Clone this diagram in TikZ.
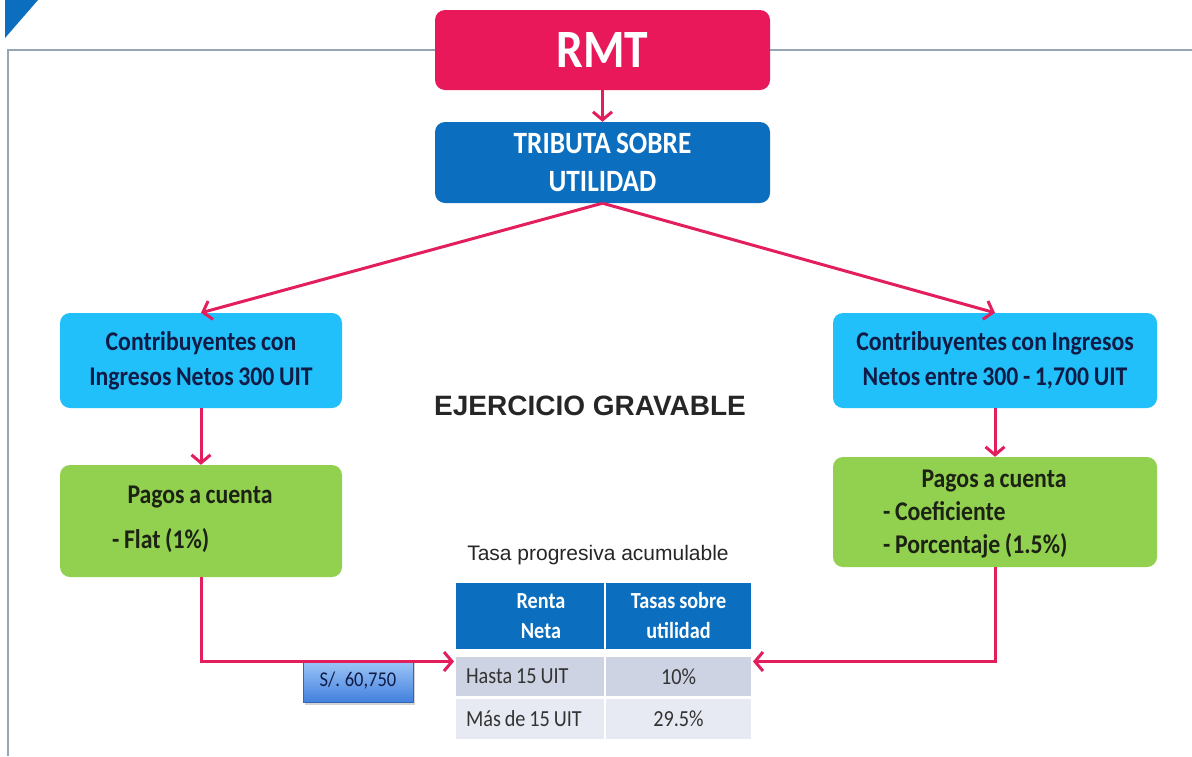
\documentclass[tikz,border=0pt]{standalone}
\usepackage{fontspec}
\setmainfont{Carlito}[FakeStretch=0.88, WordSpace=0.85]
\newfontfamily\arialfont{Liberation Sans}
\usepackage{xcolor}
\usepackage{tikz}
\usetikzlibrary{arrows.meta,positioning,shadows}

\definecolor{rmtred}{RGB}{232,24,90}
\definecolor{tribblue}{RGB}{12,110,190}
\definecolor{cyanbox}{RGB}{34,192,250}
\definecolor{greenbox}{RGB}{146,208,80}
\definecolor{navytext}{RGB}{16,28,70}
\definecolor{greentext}{RGB}{28,34,20}
\definecolor{arrowred}{RGB}{226,30,92}
\definecolor{framegray}{RGB}{150,166,180}
\definecolor{rowone}{RGB}{205,211,227}
\definecolor{rowtwo}{RGB}{231,234,242}
\definecolor{tagtop}{RGB}{160,200,248}
\definecolor{tagbottom}{RGB}{66,128,222}

\begin{document}
\begin{tikzpicture}[
    x=1pt, y=-1pt,
    box/.style={rectangle, rounded corners=10pt, inner sep=0pt, align=center},
    cyanbox/.style={box, fill=cyanbox, text=navytext, font=\fontsize{27}{35}\selectfont\bfseries},
    greenbox/.style={box, fill=greenbox},
    pagotext/.style={inner sep=0pt, text=greentext, font=\fontsize{27}{35}\selectfont\bfseries},
    link/.style={draw=arrowred, line width=3pt, -{Straight Barb[length=8pt,width=19pt]}},
    cell/.style={rectangle, draw=white, line width=2pt, inner sep=5pt, font=\fontsize{23}{30}\selectfont}
]
    \useasboundingbox (0,0) rectangle (1192,756);

    % corner mark and frame
    \fill[tribblue] (5,0) -- (38,0) -- (5,38) -- cycle;
    \draw[framegray, line width=2pt] (8,756) -- (8,50) -- (1192,50);

    % top boxes
    \node[box, fill=rmtred, minimum width=335pt, minimum height=80pt, text=white,
        font=\fontsize{54}{60}\selectfont\bfseries] (rmt) at (602.5,50) {RMT};
    \node[box, fill=tribblue, minimum width=335pt, minimum height=81pt, text=white,
        font=\fontsize{31}{38}\selectfont\bfseries] (trib) at (602.5,162.5) {TRIBUTA SOBRE\\UTILIDAD};

    % taxpayer boxes
    \node[cyanbox, minimum width=282pt, minimum height=95pt] (contL) at (201,360.5)
        {Contribuyentes con\\Ingresos Netos 300 UIT};
    \node[cyanbox, minimum width=324pt, minimum height=95pt] (contR) at (995,360.5)
        {Contribuyentes con Ingresos\\Netos entre 300 - 1,700 UIT};

    \node[font=\arialfont\fontsize{28}{32}\selectfont\bfseries, text=black!85] (ejer) at (590,406)
        {EJERCICIO GRAVABLE};

    % payment boxes
    \node[greenbox, minimum width=282pt, minimum height=112pt] (pagosL) at (201,521) {};
    \node[pagotext, anchor=base] (titleL) at (200,503) {Pagos a cuenta};
    \node[pagotext, anchor=base west] (flatL) at (112,548) {- Flat (1\%)};

    \node[greenbox, minimum width=324pt, minimum height=110pt] (pagosR) at (995,512) {};
    \node[pagotext, anchor=base] (titleR) at (994,487) {Pagos a cuenta};
    \node[pagotext, anchor=base west] (coefR) at (883,520) {- Coeficiente};
    \node[pagotext, anchor=base west] (porcR) at (883,553) {- Porcentaje (1.5\%)};

    % rate table
    \node[font=\arialfont\fontsize{21}{24}\selectfont, text=black!85] (tasa) at (598,555)
        {Tasa progresiva acumulable};
    \node[cell, fill=tribblue, minimum width=150pt, minimum height=68pt, text=white, align=center,
        font=\fontsize{23}{30}\selectfont\bfseries] (renta) at (530,616) {\hspace*{22pt}Renta\\\hspace*{22pt}Neta};
    \node[cell, fill=tribblue, minimum width=147pt, minimum height=68pt, text=white, align=center,
        font=\fontsize{23}{30}\selectfont\bfseries] (tasas) at (678.5,616) {Tasas sobre\\utilidad};
    \node[cell, fill=rowone, minimum width=150pt, minimum height=41pt, text=black!80] (hasta) at (530,676.5)
        {\makebox[128pt][l]{Hasta 15 UIT}};
    \node[cell, fill=rowone, minimum width=147pt, minimum height=41pt, text=black!80] (hastaval) at (678.5,676.5)
        {10\%};
    \node[cell, fill=rowtwo, minimum width=150pt, minimum height=42pt, text=black!80] (mas) at (530,719)
        {\makebox[128pt][l]{Más de 15 UIT}};
    \node[cell, fill=rowtwo, minimum width=147pt, minimum height=42pt, text=black!80] (masval) at (678.5,719)
        {29.5\%};

    % amount tag
    \node[rectangle, top color=tagtop, bottom color=tagbottom, draw=tagbottom!80!black, line width=0.6pt,
        minimum width=110pt, minimum height=42pt, text=navytext, font=\fontsize{21}{24}\selectfont,
        drop shadow={shadow xshift=2pt, shadow yshift=-3pt, opacity=0.35}] (soles) at (358,681) {S/. 60,750};

    % arrows
    \draw[link] (rmt.south) -- (trib.north);
    \draw[link] (trib.south) -- (contL.north);
    \draw[link] (trib.south) -- (contR.north);
    \draw[link] (contL.south) -- (pagosL.north);
    \draw[link] (contR.south) -- (pagosR.north);
    \draw[link] (pagosL.south) |- ([yshift=15pt]hasta.west);
    \draw[link] (pagosR.south) |- ([yshift=15pt]hastaval.east);
\end{tikzpicture}
\end{document}
